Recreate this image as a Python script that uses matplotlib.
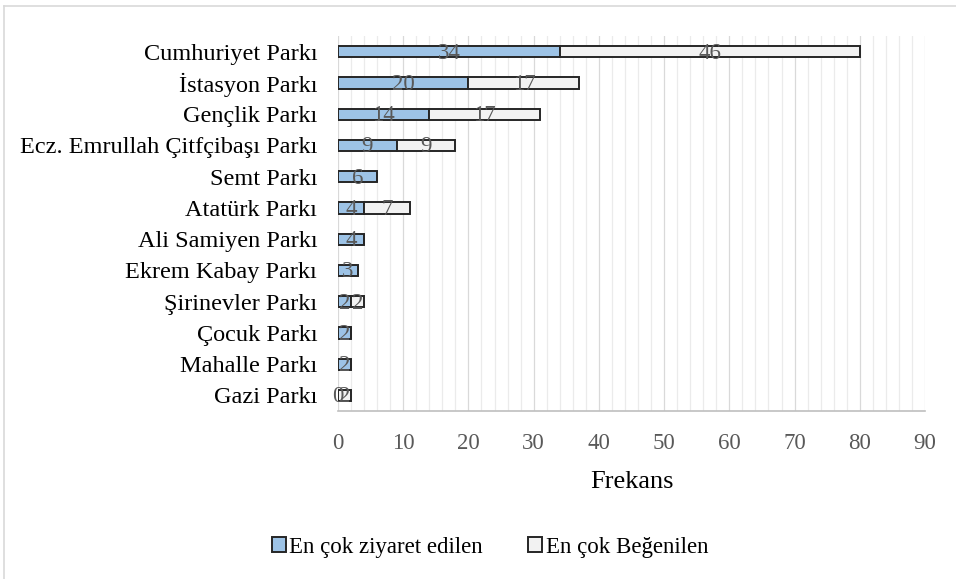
import numpy as np
import matplotlib
matplotlib.use("Agg")
from matplotlib import pyplot as plt
from matplotlib.ticker import MultipleLocator
from matplotlib.patches import Patch

parks = ['Cumhuriyet Parkı', 'İstasyon Parkı', 'Gençlik Parkı', 'Ecz. Emrullah Çitfçibaşı Parkı',
         'Semt Parkı', 'Atatürk Parkı', 'Ali Samiyen Parkı', 'Ekrem Kabay Parkı',
         'Şirinevler Parkı', 'Çocuk Parkı', 'Mahalle Parkı', 'Gazi Parkı']
visited = [34, 20, 14, 9, 6, 4, 4, 3, 2, 2, 2, 0]
liked = [46, 17, 17, 9, None, 7, None, None, 2, None, None, 2]
series_names = ['En çok ziyaret edilen', 'En çok Beğenilen']

plt.rcParams['font.family'] = ['Liberation Serif', 'DejaVu Serif']

fig = plt.figure(figsize=(9.56, 5.79), dpi=100)
ax = fig.add_axes([338 / 956, 1 - 411 / 579, 587 / 956, 375 / 579])

y = np.arange(len(parks))
v = np.array(visited, dtype=float)
l = np.array([0 if x is None else x for x in liked], dtype=float)

edge = '#262626'
ax.barh(y, v, height=0.36, color='#9DC3E6', edgecolor=edge, linewidth=1.4, zorder=3)
ax.barh(y, l, left=v, height=0.36, color='#F2F2F2', edgecolor=edge, linewidth=1.4, zorder=3)

lab_color = '#595959'
for i in range(len(parks)):
    ax.text(v[i] / 2, y[i] + 0.05, str(visited[i]), ha='center', va='center',
            fontsize=16.5, color=lab_color, zorder=4)
    if liked[i] is not None:
        ax.text(v[i] + l[i] / 2, y[i] + 0.05, str(liked[i]), ha='center', va='center',
                fontsize=16.5, color=lab_color, zorder=4)

ax.set_xlim(0, 90)
ax.set_ylim(len(parks) - 0.5, -0.5)
ax.set_yticks(y)
ax.set_yticklabels(parks, fontsize=17.5, color='#000000')
ax.xaxis.set_major_locator(MultipleLocator(10))
ax.xaxis.set_minor_locator(MultipleLocator(2))
ax.tick_params(axis='x', which='both', length=0, labelsize=16.5, labelcolor=lab_color, pad=16)
ax.tick_params(axis='y', length=0, pad=15)
ax.grid(axis='x', which='minor', color='#EBEBEB', linewidth=0.9, zorder=0)
ax.grid(axis='x', which='major', color='#D9D9D9', linewidth=0.9, zorder=0)
for s in ['top', 'right', 'left']:
    ax.spines[s].set_visible(False)
ax.spines['bottom'].set_color('#BFBFBF')
ax.spines['bottom'].set_linewidth(1.2)

ax.set_xlabel('Frekans', fontsize=19, color='#000000', labelpad=12)

handles = [Patch(facecolor='#9DC3E6', edgecolor=edge, linewidth=1.4),
           Patch(facecolor='#F2F2F2', edgecolor=edge, linewidth=1.4)]
fig.legend(handles, series_names, loc='center', bbox_to_anchor=(490 / 956, 1 - 547 / 579),
           ncol=2, frameon=False, fontsize=16.5, handlelength=0.6, handleheight=0.6,
           handletextpad=0.15, columnspacing=2.0)

# chart border (light grey)
fig.add_artist(plt.Line2D([4 / 956, 4 / 956], [0, 1 - 6 / 579], color='#D9D9D9', linewidth=1.2))
fig.add_artist(plt.Line2D([4 / 956, 1], [1 - 6 / 579, 1 - 6 / 579], color='#D9D9D9', linewidth=1.2))

fig.savefig('out.png', dpi=100)
